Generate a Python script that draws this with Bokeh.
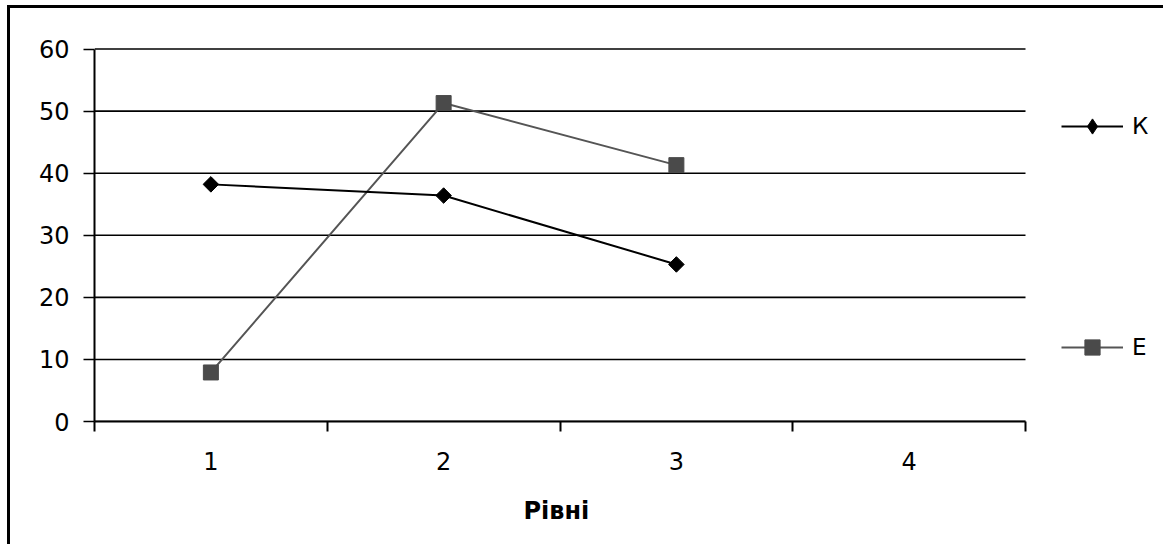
import math
from bokeh.plotting import figure
from bokeh.models import Range1d, FixedTicker, Legend, LegendItem, ColumnDataSource, Title
from bokeh.embed import file_html
from bokeh.resources import INLINE

# ---- data ----
categories = ["1", "2", "3", "4"]
levels = [1, 2, 3]
k_values = [38.2, 36.4, 25.3]
e_values = [7.9, 51.3, 41.3]
y_ticks = [0, 10, 20, 30, 40, 50, 60]
series_names = ["К", "Е"]
x_title = "Рівні"

FONT = "DejaVu Sans"

# layout (pixels inside the bordered chart box)
W, H = 1156, 539
FRAME_LEFT = 84            # where the category axis starts
PLOT_W = 931               # width of the category area
FRAME_W = W - FRAME_LEFT   # frame extends to the right edge so the legend is not clipped
n = len(categories)
x_start = 0.5
x_end = x_start + n * FRAME_W / PLOT_W

p = figure(width=W, height=H, output_backend="svg", toolbar_location=None,
           x_range=Range1d(x_start, x_end), y_range=Range1d(0, 60.25),
           min_border_left=FRAME_LEFT, min_border_right=0, min_border_top=39, min_border_bottom=125)
p.outline_line_color = None
p.background_fill_color = "white"
p.border_fill_color = "white"
p.styles = {"border-left": "3px solid black", "border-top": "3px solid black",
            "margin-left": "7px", "margin-top": "5px"}

# horizontal grid lines limited to the category area
p.xgrid.visible = False
p.ygrid.visible = False
p.segment(x0=[x_start] * len(y_ticks), x1=[x_start + n] * len(y_ticks), y0=y_ticks, y1=y_ticks,
          line_color="black", line_width=1.6)

# y axis
p.yaxis.ticker = FixedTicker(ticks=y_ticks, minor_ticks=[])
p.yaxis.bounds = (0, 60)
p.yaxis.axis_line_color = "black"
p.yaxis.axis_line_width = 2
p.yaxis.major_tick_out = 11
p.yaxis.major_tick_in = 0
p.yaxis.major_tick_line_width = 1.6
p.yaxis.major_tick_line_color = "black"
p.yaxis.major_label_standoff = 14
p.yaxis.major_label_text_font = FONT
p.yaxis.major_label_text_font_size = "24px"
p.yaxis.major_label_text_color = "black"

# x axis (labels at centres, ticks at boundaries)
centers = list(range(1, n + 1))
bounds = [c - 0.5 for c in centers] + [n + 0.5]
p.xaxis.ticker = FixedTicker(ticks=centers, minor_ticks=bounds)
p.xaxis.bounds = (x_start, x_start + n)
p.xaxis.major_label_overrides = {c: lab for c, lab in zip(centers, categories)}
p.xaxis.axis_line_color = "black"
p.xaxis.axis_line_width = 2
p.xaxis.major_tick_out = 0
p.xaxis.major_tick_in = 0
p.xaxis.minor_tick_out = 10
p.xaxis.minor_tick_in = 0
p.xaxis.minor_tick_line_width = 2
p.xaxis.minor_tick_line_color = "black"
p.xaxis.major_label_standoff = 20
p.xaxis.major_label_text_font = FONT
p.xaxis.major_label_text_font_size = "24px"
p.xaxis.major_label_text_color = "black"

# axis title centred under the category area (the frame is wider than the axis)
p.add_layout(Title(text=x_title, align="left", offset=429, standoff=45,
                   text_font=FONT, text_font_size="24px", text_font_style="bold",
                   text_color="black"), "below")

src_k = ColumnDataSource(dict(x=levels, y=k_values))
src_e = ColumnDataSource(dict(x=levels, y=e_values))

e_line = p.line("x", "y", source=src_e, line_color="#555555", line_width=2)
e_pts = p.scatter("x", "y", source=src_e, marker="square", size=15,
                  fill_color="#4a4a4a", line_color="#4a4a4a")
k_line = p.line("x", "y", source=src_k, line_color="black", line_width=2)
k_pts = p.scatter("x", "y", source=src_k, marker="square", angle=math.pi / 4, size=11,
                  fill_color="black", line_color="black")
# legend-only proxy (legend glyphs ignore marker rotation)
k_proxy = p.scatter(x=[math.nan], y=[math.nan], marker="diamond", size=17,
                    fill_color="black", line_color="black")

legend = Legend(items=[LegendItem(label=series_names[0], renderers=[k_line, k_proxy]),
                       LegendItem(label=series_names[1], renderers=[e_line, e_pts])],
                location=(967, 55), padding=0, margin=0, spacing=183,
                border_line_color=None, background_fill_alpha=0,
                glyph_width=62, glyph_height=38, label_height=38, label_standoff=9,
                label_text_font=FONT, label_text_font_size="23px", label_text_color="black")
p.add_layout(legend, "center")

open("out.html", "w").write(file_html(p, INLINE))
